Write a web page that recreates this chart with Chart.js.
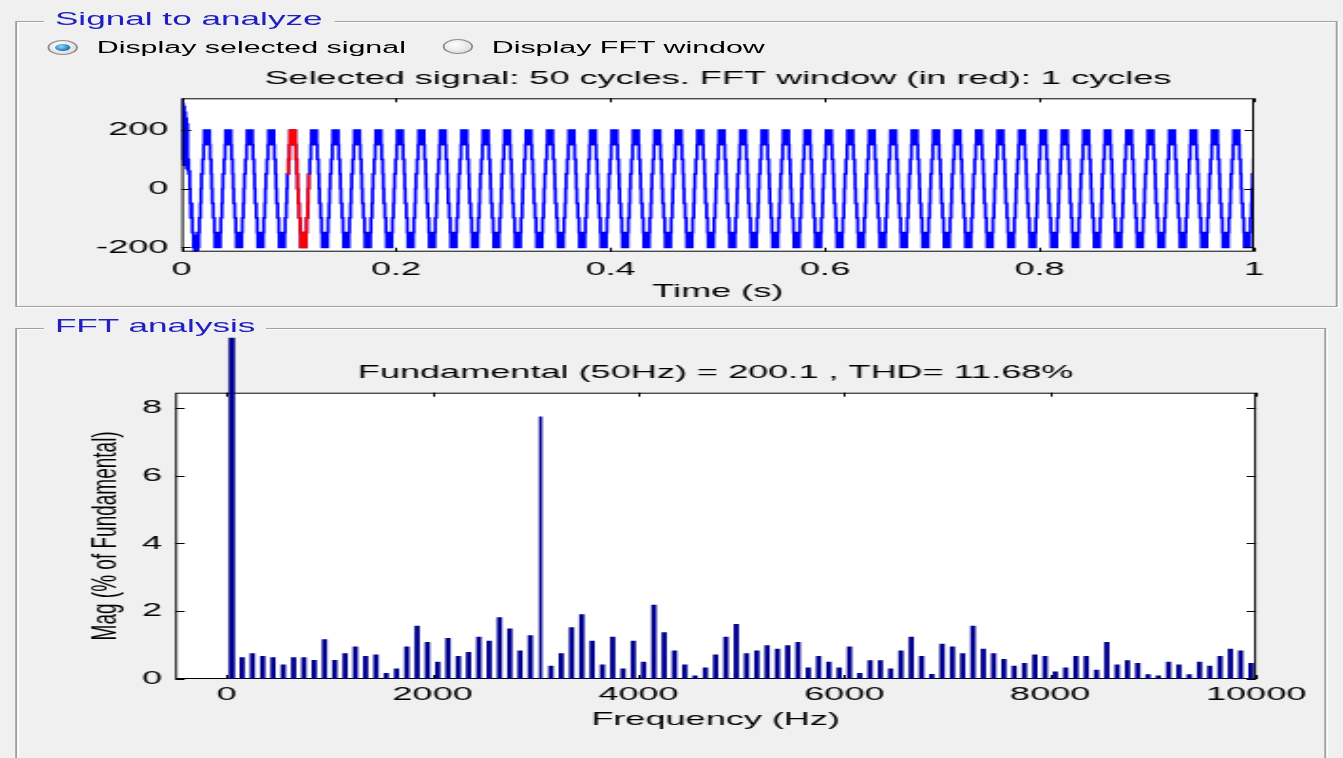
<!DOCTYPE html>
<html lang="en">
<head>
<meta charset="UTF-8">
<title>FFT Analysis</title>
<script src="https://cdn.jsdelivr.net/npm/chart.js"></script>
<style>
    html, body {
        margin: 0;
        padding: 0;
        background: #f0f0f0;
        overflow: hidden;
    }
    body {
        width: 1343px;
        height: 758px;
    }
    /* the GUI is laid out narrow and stretched sideways, like the old panel look */
    #gui {
        position: absolute;
        left: 0;
        top: 0;
        width: 707px;
        height: 758px;
        transform: scaleX(1.9);
        transform-origin: 0 0;
        font-family: "Liberation Sans", Arial, sans-serif;
    }
    .panel {
        position: absolute;
        border: 1px solid #a0a0a0;
        box-shadow: inset 1px 1px 0 #fff, 1px 1px 0 #fff;
    }
    .panel-title {
        position: absolute;
        left: 14px;
        padding: 0 6px;
        background: #f0f0f0;
        color: #2020c0;
        font-size: 18.5px;
        line-height: 22px;
        white-space: nowrap;
    }
    .radio {
        position: absolute;
        width: 16px;
        height: 15px;
        box-sizing: border-box;
        border-radius: 50%;
        border: 1px solid #8c8c8c;
        background: radial-gradient(circle at 40% 35%, #ffffff, #d4d4d4);
    }
    .radio.on::after {
        content: '';
        position: absolute;
        left: 3px;
        top: 3px;
        width: 8px;
        height: 7px;
        border-radius: 50%;
        background: radial-gradient(circle at 40% 35%, #8fd8ff, #1f78b8 65%, #0e3f66);
    }
    .radio-label {
        position: absolute;
        font-size: 16px;
        line-height: 20px;
        color: #000;
        white-space: nowrap;
    }
    canvas {
        position: absolute;
    }
</style>
</head>
<body>
<div id="gui">
    <div class="panel" style="left:7.9px; top:20.5px; width:694px; height:284px;">
        <span class="panel-title" style="top:-13.5px;">Signal to analyze</span>
    </div>
    <div class="panel" style="left:7.9px; top:328.3px; width:688px; height:440px;">
        <span class="panel-title" style="top:-14.5px;">FFT analysis</span>
    </div>

    <div class="radio on" style="left:25.4px; top:40px;"></div>
    <span class="radio-label" style="left:50.9px; top:37.5px;">Display selected signal</span>
    <div class="radio" style="left:233px; top:39px;"></div>
    <span class="radio-label" style="left:258.8px; top:37.5px;">Display FFT window</span>

    <canvas id="sig" width="650" height="250" style="left:20px; top:55px;"></canvas>
    <canvas id="fft" width="700" height="410" style="left:10px; top:330px;"></canvas>
</div>

<script>
    // ---- selected signal ----
    const cycleCount = 50;
    const cyclePeriod = 0.02;     // 50 Hz
    const sampleStep = 0.0005;    // 40 samples per cycle
    const fftStart = 0.0985;
    const fftCycles = 1;

    // first cycle still carries the start-up transient
    const firstCycle = [308, 100, 290, 80, 280, 100, 260, 90, 240, 70,
                        220, 65, 100, 50, 60, 0, -50, -100, -50, -100,
                        -150, -150, -200, -160, -215, -160, -215, -200, -160, -210,
                        -150, -200, -150, -100, -100, -50, 0, 50, 50, 100];
    // multilevel steps, switching between neighbouring levels
    const steadyCycle = [100, 150, 200, 150, 200, 150, 200, 200, 150, 200,
                         150, 200, 150, 100, 100, 50, 0, -50, -50, -100,
                         -100, -150, -200, -150, -200, -150, -200, -200, -150, -200,
                         -150, -200, -150, -100, -100, -50, 0, 50, 50, 100];
    const timeTicks = [0, 0.2, 0.4, 0.6, 0.8, 1];
    const signalTicks = [-200, 0, 200];

    // ---- spectrum ----
    const fundFreq = 50;
    const fundMag = 100;
    const firstHarmonic = 3;      // odd harmonics 150 Hz ... 9950 Hz
    const harmMag = [
        0.63, 0.75, 0.67, 0.63, 0.42, 0.63, 0.63, 0.55, 1.16,
        0.55, 0.75, 0.95, 0.67, 0.71, 0.17, 0.30, 0.95, 1.56, 1.08,
        0.50, 1.20, 0.67, 0.79, 1.24, 1.12, 1.81, 1.48, 0.83, 1.28,
        7.74, 0.38, 0.75, 1.52, 1.90, 1.12, 0.42, 1.24, 0.30, 1.12,
        0.50, 2.18, 1.37, 0.83, 0.42, 0.09, 0.33, 0.71, 1.24, 1.61,
        0.75, 0.83, 0.99, 0.88, 0.99, 1.08, 0.33, 0.67, 0.50, 0.33,
        0.95, 0.17, 0.54, 0.54, 0.30, 0.83, 1.24, 0.67, 0.14, 1.03,
        0.95, 0.75, 1.56, 0.88, 0.75, 0.58, 0.38, 0.46, 0.71, 0.67,
        0.21, 0.33, 0.67, 0.67, 0.26, 1.08, 0.42, 0.54, 0.46, 0.13,
        0.09, 0.50, 0.42, 0.13, 0.50, 0.38, 0.67, 0.88, 0.83, 0.46
    ];
    const narrowFreqs = [3050];   // drawn as a hairline
    const freqTicks = [0, 2000, 4000, 6000, 8000, 10000];
    const magTicks = [0, 2, 4, 6, 8];

    const font = { family: '"Liberation Sans", Arial, sans-serif', size: 19, weight: 'normal' };

    // white plot area, black box and inward ticks on all four sides
    function drawFrame(chart, opts) {
        const { ctx, chartArea: a, scales: { x, y } } = chart;
        ctx.save();
        ctx.strokeStyle = '#000';
        ctx.lineWidth = 1;
        ctx.strokeRect(a.left + 0.5, a.top + 0.5, a.width - 1, a.height - 1);
        ctx.beginPath();
        x.ticks.forEach(t => {
            const px = Math.round(x.getPixelForValue(t.value)) + 0.5;
            ctx.moveTo(px, a.bottom); ctx.lineTo(px, a.bottom - opts.xTick);
            ctx.moveTo(px, a.top); ctx.lineTo(px, a.top + opts.xTick);
        });
        y.ticks.forEach(t => {
            const py = Math.round(y.getPixelForValue(t.value)) + 0.5;
            ctx.moveTo(a.left, py); ctx.lineTo(a.left + opts.yTick, py);
            ctx.moveTo(a.right, py); ctx.lineTo(a.right - opts.yTick, py);
        });
        ctx.stroke();
        ctx.restore();
    }
    const axesBox = {
        id: 'axesBox',
        beforeDraw(chart) {
            const { ctx, chartArea: a } = chart;
            ctx.save();
            ctx.fillStyle = '#fff';
            ctx.fillRect(a.left, a.top, a.width, a.height);
            ctx.restore();
        },
        beforeDatasetsDraw(chart, args, opts) { if (!opts.onTop) drawFrame(chart, opts); },
        afterDatasetsDraw(chart, args, opts) { if (opts.onTop) drawFrame(chart, opts); }
    };

    function fixedTicks(values) {
        return s => { s.ticks = values.map(v => ({ value: v })); };
    }
    function xFit(h) {
        return s => { s.height = h; s.paddingLeft = 0; s.paddingRight = 0; };
    }
    function yFit(w) {
        return s => { s.width = w; s.paddingTop = 0; s.paddingBottom = 0; };
    }

    // build the time series from the cycle tables
    const signalPts = [];
    for (let c = 0; c < cycleCount; c++) {
        const cyc = c === 0 ? firstCycle : steadyCycle;
        cyc.forEach((v, i) => {
            signalPts.push({ x: +(c * cyclePeriod + i * sampleStep).toFixed(4), y: v });
        });
    }
    signalPts.push({ x: 1, y: steadyCycle[0] });
    const fftEnd = fftStart + fftCycles * cyclePeriod;
    const windowPts = signalPts.filter(p => p.x >= fftStart - 1e-9 && p.x <= fftEnd + 1e-9);

    new Chart(document.getElementById('sig'), {
        type: 'line',
        data: {
            datasets: [
                { data: windowPts, borderColor: '#ff0000', borderWidth: 1.7, pointRadius: 0, stepped: true },
                { data: signalPts, borderColor: '#0000ff', borderWidth: 1.7, pointRadius: 0, stepped: true }
            ]
        },
        options: {
            responsive: false,
            animation: false,
            events: [],
            layout: { padding: { left: 0, right: 10, top: 0, bottom: 0 } },
            plugins: {
                legend: { display: false },
                tooltip: { enabled: false },
                title: {
                    display: true,
                    fullSize: false,
                    text: 'Selected signal: 50 cycles. FFT window (in red): 1 cycles',
                    color: '#000',
                    font: font,
                    padding: { top: 12, bottom: 8.5 }
                },
                axesBox: { onTop: true, xTick: 4, yTick: 5 }
            },
            scales: {
                x: {
                    type: 'linear',
                    min: 0,
                    max: 1,
                    grid: { display: false, drawTicks: false },
                    border: { display: false },
                    afterBuildTicks: fixedTicks(timeTicks),
                    afterFit: xFit(53.3),
                    ticks: { color: '#000', font: font, padding: 6.5, autoSkip: false, maxRotation: 0, callback: v => String(v) },
                    title: { display: true, text: 'Time (s)', color: '#000', font: font, padding: { top: 0, bottom: 1.8 } }
                },
                y: {
                    min: -215,
                    max: 308,
                    grid: { display: false, drawTicks: false },
                    border: { display: false },
                    afterBuildTicks: fixedTicks(signalTicks),
                    afterFit: yFit(75.6),
                    ticks: { color: '#000', font: font, padding: 7, autoSkip: false, callback: v => String(v) }
                }
            }
        },
        plugins: [axesBox]
    });

    // spectrum bars
    const wideBars = [], thinBars = [];
    harmMag.forEach((m, i) => {
        const f = fundFreq * (firstHarmonic + 2 * i);
        (narrowFreqs.includes(f) ? thinBars : wideBars).push({ x: f, y: m });
    });
    const barClip = { left: 0, top: 55, right: 0, bottom: 0 };
    const navy = '#00008f';

    new Chart(document.getElementById('fft'), {
        type: 'bar',
        data: {
            datasets: [
                { data: [{ x: fundFreq, y: fundMag }], backgroundColor: navy, barThickness: 2.7, clip: barClip },
                { data: wideBars, backgroundColor: navy, barThickness: 2.1, clip: barClip },
                { data: thinBars, backgroundColor: navy, barThickness: 1.1, clip: barClip }
            ]
        },
        options: {
            responsive: false,
            animation: false,
            events: [],
            grouped: false,
            layout: { padding: { left: 0, right: 48.9, top: 0, bottom: 0 } },
            plugins: {
                legend: { display: false },
                tooltip: { enabled: false },
                title: {
                    display: true,
                    fullSize: false,
                    text: 'Fundamental (50Hz) = 200.1 , THD= 11.68%',
                    color: '#000',
                    font: font,
                    padding: { top: 31.5, bottom: 8.4 }
                },
                axesBox: { onTop: false, xTick: 4, yTick: 5 }
            },
            scales: {
                x: {
                    type: 'linear',
                    min: -500,
                    max: 10000,
                    offset: false,
                    grid: { display: false, drawTicks: false, offset: false },
                    border: { display: false },
                    afterBuildTicks: fixedTicks(freqTicks),
                    afterFit: xFit(61),
                    ticks: { color: '#000', font: font, padding: 4, autoSkip: false, maxRotation: 0, callback: v => String(v) },
                    title: { display: true, text: 'Frequency (Hz)', color: '#000', font: font, padding: { top: 0, bottom: 8.8 } }
                },
                y: {
                    min: 0,
                    max: 8.45,
                    grid: { display: false, drawTicks: false },
                    border: { display: false },
                    afterBuildTicks: fixedTicks(magTicks),
                    afterFit: yFit(82.2),
                    ticks: { color: '#000', font: font, padding: 7, autoSkip: false, callback: v => String(v) },
                    title: { display: true, text: 'Mag (% of Fundamental)', color: '#000', font: font, padding: { top: 33.9, bottom: 0 } }
                }
            }
        },
        plugins: [axesBox]
    });
</script>
</body>
</html>
